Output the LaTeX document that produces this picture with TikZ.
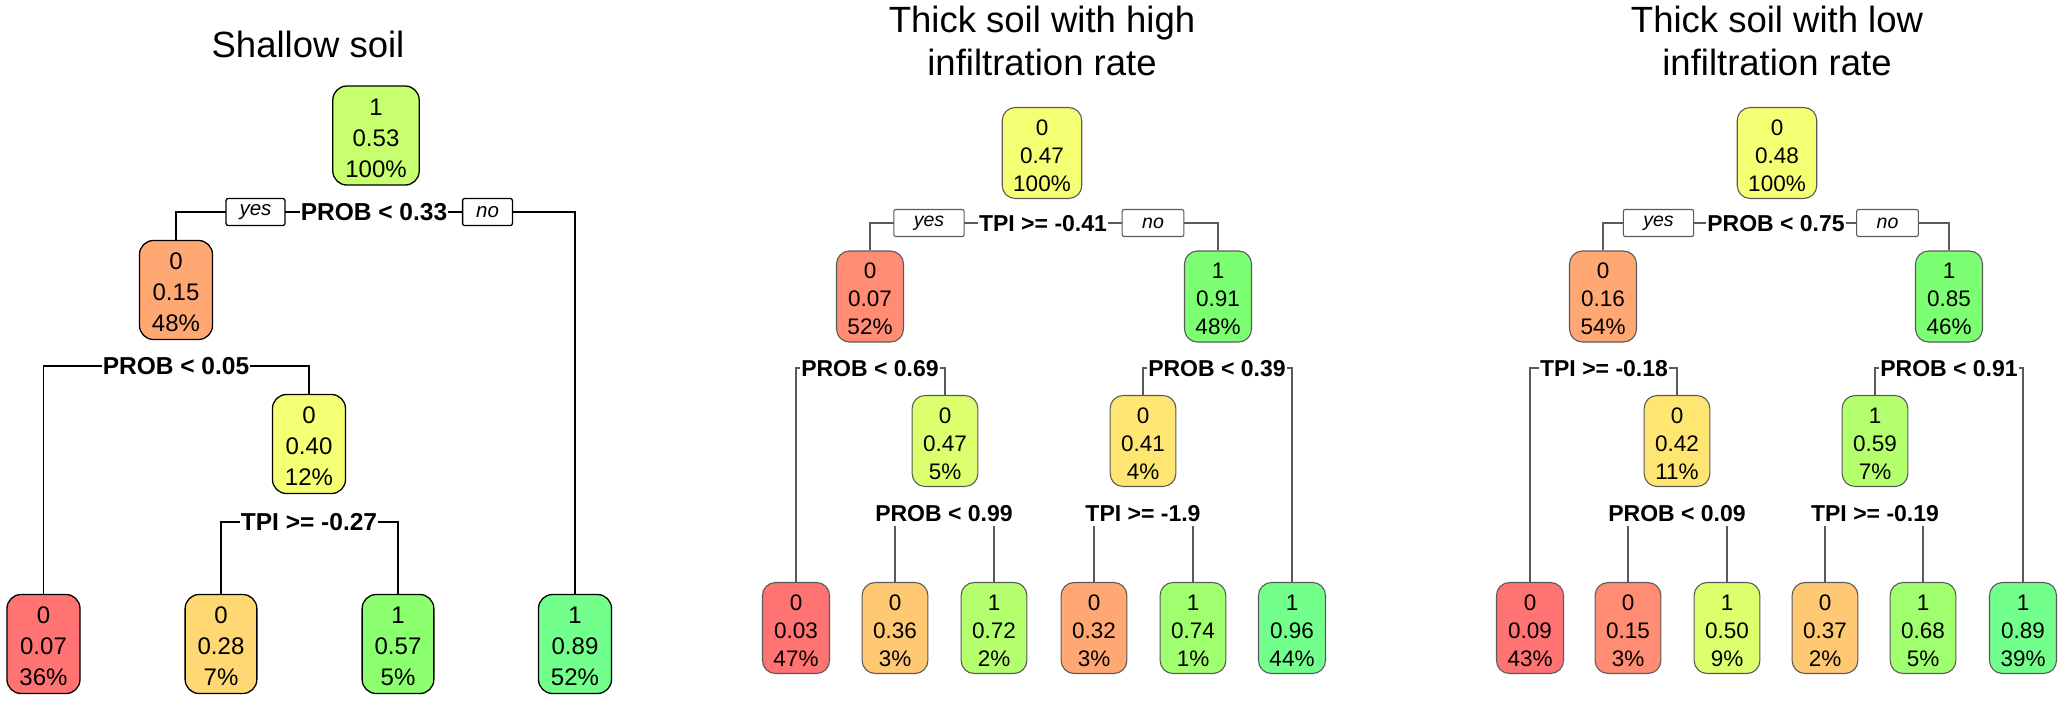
\documentclass[tikz,border=0pt]{standalone}
\usepackage{fontspec}
\setmainfont{Liberation Sans}
\pgfdeclarelayer{bg}
\pgfsetlayers{bg,main}
\definecolor{edgeb}{HTML}{5A5A5A}
\definecolor{cRed}{HTML}{FF7373}
\definecolor{cSalmon}{HTML}{FF8C73}
\definecolor{cOrange}{HTML}{FFA873}
\definecolor{cLtOrange}{HTML}{FFC873}
\definecolor{cGold}{HTML}{FFD773}
\definecolor{cYellowOr}{HTML}{FFE673}
\definecolor{cYellow}{HTML}{F5FF73}
\definecolor{cYelGreen}{HTML}{DCFF6E}
\definecolor{cLime}{HTML}{C8FF6E}
\definecolor{cLtGreen}{HTML}{B4FF6E}
\definecolor{cGreenA}{HTML}{A0FF6E}
\definecolor{cGreenB}{HTML}{8CFF6E}
\definecolor{cGreenC}{HTML}{7DFF73}
\definecolor{cSea}{HTML}{73FF8C}
\newcommand{\nd}[3]{\rule{0pt}{0.9em}#1\\#2\\#3}
\tikzset{
  boxa/.style={draw=black, line width=1.3pt, rounded corners=14pt, inner xsep=12.5pt, inner ysep=0pt,
    minimum height=99pt, align=center, font=\fontsize{24}{31}\selectfont},
  boxb/.style={draw=edgeb, line width=1.1pt, rounded corners=13pt, inner xsep=11pt, inner ysep=0pt,
    minimum height=91pt, align=center, font=\fontsize{22.5}{28}\selectfont},
  laba/.style={fill=white, inner xsep=1pt, inner ysep=5pt, text height=17.5pt, text depth=0pt,
    font=\bfseries\fontsize{24.5}{28}\selectfont},
  labb/.style={fill=white, inner xsep=1pt, inner ysep=5pt, text height=16.5pt, text depth=0pt,
    font=\bfseries\fontsize{23}{27}\selectfont},
  yna/.style={draw=black, fill=white, line width=1.3pt, rounded corners=2pt, inner xsep=13.5pt,
    inner ysep=0pt, minimum height=27pt, font=\itshape\fontsize{20.5}{24}\selectfont},
  ynb/.style={draw=edgeb, fill=white, line width=1.1pt, rounded corners=2pt, inner xsep=20pt,
    inner ysep=0pt, minimum height=27pt, font=\itshape\fontsize{19.5}{23}\selectfont},
  ttl/.style={anchor=base, inner sep=0pt, font=\fontsize{36.5}{43}\selectfont},
  ea/.style={draw=black, line width=1.3pt},
  eb/.style={draw=edgeb, line width=1.1pt},
}
\begin{document}
\begin{tikzpicture}[x=1pt,y=-1pt]
\useasboundingbox (0,0) rectangle (2067,705);

% ---------------- Panel 1: Shallow soil ----------------
\node[ttl] (t1) at (308,57.5) {Shallow soil};
\node[boxa, fill=cLime] (r1) at (376,135.5) {\nd{1}{0.53}{100\%}};
\node[laba] (s1) at (374,212) {PROB < 0.33};
\node[boxa, fill=cOrange] (a1) at (176,290) {\nd{0}{0.15}{48\%}};
\node[laba] (s1b) at (176,366) {PROB < 0.05};
\node[boxa, fill=cYellow] (b1) at (309,444) {\nd{0}{0.40}{12\%}};
\node[laba] (s1c) at (309,522) {TPI >= -0.27};
\node[boxa, fill=cRed] (l1a) at (43.5,644) {\nd{0}{0.07}{36\%}};
\node[boxa, fill=cGold] (l1b) at (221,644) {\nd{0}{0.28}{7\%}};
\node[boxa, fill=cGreenB] (l1c) at (398,644) {\nd{1}{0.57}{5\%}};
\node[boxa, fill=cSea] (l1d) at (575,644) {\nd{1}{0.89}{52\%}};
\begin{pgfonlayer}{bg}
\draw[ea] (a1.north) |- (s1) -| (l1d.north);
\draw[ea] (l1a.north) |- (s1b) -| (b1.north);
\draw[ea] (l1b.north) |- (s1c) -| (l1c.north);
\end{pgfonlayer}
\node[yna] (y1) at (255.5,212) {yes};
\node[yna] (n1) at (487.5,212) {no};

% ---------------- Panel 2: high infiltration ----------------
\node[ttl] (t2a) at (1042,32) {Thick soil with high};
\node[ttl] (t2b) at (1042,75) {infiltration rate};
\node[boxb, fill=cYellow] (r2) at (1042,153) {\nd{0}{0.47}{100\%}};
\node[labb] (s2) at (1043,223) {TPI >= -0.41};
\node[boxb, fill=cSalmon] (a2) at (870,296.5) {\nd{0}{0.07}{52\%}};
\node[boxb, fill=cGreenC] (b2) at (1218,296.5) {\nd{1}{0.91}{48\%}};
\node[labb] (s2b) at (870,368) {PROB < 0.69};
\node[boxb, fill=cYelGreen] (c2) at (945,441) {\nd{0}{0.47}{5\%}};
\node[labb] (s2c) at (944,513) {PROB < 0.99};
\node[labb] (s2d) at (1217,368) {PROB < 0.39};
\node[boxb, fill=cYellowOr] (d2) at (1143,441) {\nd{0}{0.41}{4\%}};
\node[labb] (s2e) at (1143,513) {TPI >= -1.9};
\node[boxb, fill=cRed] (l2a) at (796,628) {\nd{0}{0.03}{47\%}};
\node[boxb, fill=cLtOrange] (l2b) at (895,628) {\nd{0}{0.36}{3\%}};
\node[boxb, fill=cLtGreen] (l2c) at (994,628) {\nd{1}{0.72}{2\%}};
\node[boxb, fill=cOrange] (l2d) at (1094,628) {\nd{0}{0.32}{3\%}};
\node[boxb, fill=cGreenA] (l2e) at (1193,628) {\nd{1}{0.74}{1\%}};
\node[boxb, fill=cSea] (l2f) at (1292,628) {\nd{1}{0.96}{44\%}};
\begin{pgfonlayer}{bg}
\draw[eb] (a2.north) |- (s2) -| (b2.north);
\draw[eb] (l2a.north) |- (s2b) -| (c2.north);
\draw[eb] (l2b.north) |- (s2c) -| (l2c.north);
\draw[eb] (d2.north) |- (s2d) -| (l2f.north);
\draw[eb] (l2d.north) |- (s2e) -| (l2e.north);
\end{pgfonlayer}
\node[ynb] (y2) at (929,223) {yes};
\node[ynb] (n2) at (1153,223) {no};

% ---------------- Panel 3: low infiltration ----------------
\node[ttl] (t3a) at (1777,32) {Thick soil with low};
\node[ttl] (t3b) at (1777,75) {infiltration rate};
\node[boxb, fill=cYellow] (r3) at (1777,153) {\nd{0}{0.48}{100\%}};
\node[labb] (s3) at (1776,223) {PROB < 0.75};
\node[boxb, fill=cOrange] (a3) at (1603,296.5) {\nd{0}{0.16}{54\%}};
\node[boxb, fill=cGreenC] (b3) at (1949,296.5) {\nd{1}{0.85}{46\%}};
\node[labb] (s3b) at (1604,368) {TPI >= -0.18};
\node[boxb, fill=cYellowOr] (c3) at (1677,441) {\nd{0}{0.42}{11\%}};
\node[labb] (s3c) at (1677,513) {PROB < 0.09};
\node[labb] (s3d) at (1949,368) {PROB < 0.91};
\node[boxb, fill=cLtGreen] (d3) at (1875,441) {\nd{1}{0.59}{7\%}};
\node[labb] (s3e) at (1875,513) {TPI >= -0.19};
\node[boxb, fill=cRed] (l3a) at (1530,628) {\nd{0}{0.09}{43\%}};
\node[boxb, fill=cSalmon] (l3b) at (1628,628) {\nd{0}{0.15}{3\%}};
\node[boxb, fill=cYelGreen] (l3c) at (1727,628) {\nd{1}{0.50}{9\%}};
\node[boxb, fill=cLtOrange] (l3d) at (1825,628) {\nd{0}{0.37}{2\%}};
\node[boxb, fill=cGreenA] (l3e) at (1923,628) {\nd{1}{0.68}{5\%}};
\node[boxb, fill=cSea] (l3f) at (2023,628) {\nd{1}{0.89}{39\%}};
\begin{pgfonlayer}{bg}
\draw[eb] (a3.north) |- (s3) -| (b3.north);
\draw[eb] (l3a.north) |- (s3b) -| (c3.north);
\draw[eb] (l3b.north) |- (s3c) -| (l3c.north);
\draw[eb] (d3.north) |- (s3d) -| (l3f.north);
\draw[eb] (l3d.north) |- (s3e) -| (l3e.north);
\end{pgfonlayer}
\node[ynb] (y3) at (1658.5,223) {yes};
\node[ynb] (n3) at (1887.5,223) {no};
\end{tikzpicture}
\end{document}
